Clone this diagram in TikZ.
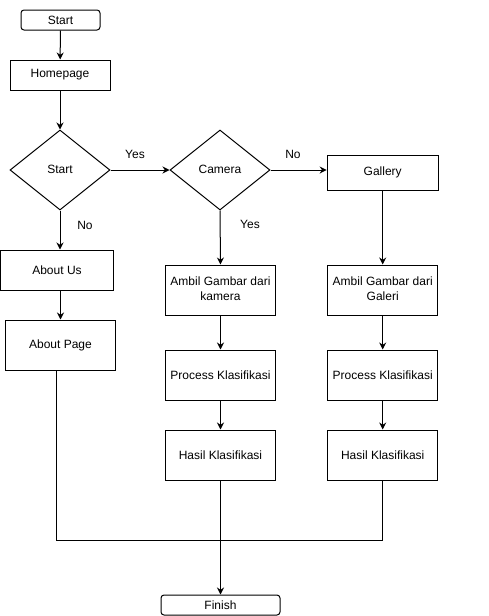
\documentclass[tikz,border=0pt]{standalone}
\usepackage{fontspec}
\setmainfont{Liberation Sans}
\usetikzlibrary{shapes.geometric,arrows.meta}
\newcommand{\twoline}[2]{\begin{tabular}{@{}c@{}}#1\\#2\end{tabular}}
\begin{document}
\begin{tikzpicture}[x=1pt,y=-1pt,
  every node/.style={font=\fontsize{12pt}{14.4pt}\selectfont, inner sep=0pt},
  term/.style={draw, line width=1pt, rounded corners=3pt, minimum width=#1, minimum height=20pt},
  proc/.style={draw, line width=1pt, minimum width=#1},
  dec/.style={draw, line width=1pt, diamond, minimum width=100pt, minimum height=80pt, aspect=1.25},
  conn/.style={line width=1pt},
  arr/.style={line width=1pt, -{Stealth[length=7pt,width=7pt]}},
  lab/.style={}
]
\useasboundingbox (0,0) rectangle (489,616);
\node[term=79pt] (start) at (60.5,20) {Start};
\node[proc=100pt, minimum height=30pt] (home) at (60,75) {Homepage};
\node[dec] (d1) at (60,170) {\raisebox{2pt}{Start}};
\node[dec] (cam) at (220,170) {\raisebox{2pt}{Camera}};
\node[proc=111pt, minimum height=35pt] (gal) at (382.7,172.5) {Gallery};
\node[proc=113pt, minimum height=40pt] (about) at (57,270) {About Us};
\node[proc=110pt, minimum height=50pt] (apage) at (60.5,345) {About Page};
\node[proc=110pt, minimum height=50pt] (amb1) at (220.5,290) {\twoline{Ambil Gambar dari}{kamera}};
\node[proc=110pt, minimum height=50pt] (amb2) at (382.7,290) {\twoline{Ambil Gambar dari}{Galeri}};
\node[proc=110pt, minimum height=50pt] (pr1) at (220.5,375) {Process Klasifikasi};
\node[proc=110pt, minimum height=50pt] (pr2) at (382.7,375) {Process Klasifikasi};
\node[proc=110pt, minimum height=50pt] (h1) at (220.5,455) {Hasil Klasifikasi};
\node[proc=110pt, minimum height=50pt] (h2) at (382.7,455) {Hasil Klasifikasi};
\node[term=119pt] (fin) at (220.5,605) {Finish};
\coordinate (j) at (220.5,540);

\draw[arr] (start) -- (home);
\draw[arr] (home) -- (d1);
\draw[arr] (d1.east) -- (cam.west);
\draw[arr] (cam.east) -- (cam.east -| gal.west);
\draw[arr] (d1.south) -- (d1.south |- about.north);
\draw[arr] (apage.north |- about.south) -- (apage.north);
\draw[arr] (cam.south) -- (amb1.north);
\draw[arr] (gal) -- (amb2);
\draw[arr] (amb1) -- (pr1);
\draw[arr] (pr1) -- (h1);
\draw[arr] (amb2) -- (pr2);
\draw[arr] (pr2) -- (h2);
\draw[conn] ([xshift=-4.5pt]apage.south) |- (j);
\draw[conn] (h2.south) |- (j);
\draw[arr] (h1.south) -- (fin.north);

\node[lab] (ly1) at (135,154) {Yes};
\node[lab] (ln1) at (293,154) {No};
\node[lab] (ly2) at (250,224) {Yes};
\node[lab] (ln2) at (85,225) {No};
\end{tikzpicture}
\end{document}
